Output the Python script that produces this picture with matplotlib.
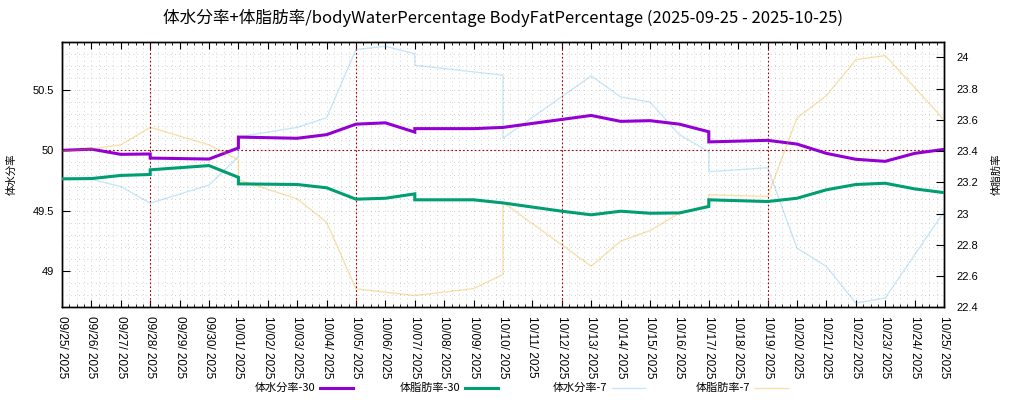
import matplotlib
matplotlib.use("Agg")
import matplotlib.pyplot as plt
import matplotlib.dates as mdates
from matplotlib.lines import Line2D
import pandas as pd

plt.rcParams['font.family'] = ['Noto Sans CJK JP', 'DejaVu Sans']

# ---------------- data ----------------
water30_dates = ["2025-09-25", "2025-09-26", "2025-09-27", "2025-09-28", "2025-09-28",
                 "2025-09-30", "2025-10-01", "2025-10-01", "2025-10-03", "2025-10-04",
                 "2025-10-05", "2025-10-06", "2025-10-07", "2025-10-07", "2025-10-09",
                 "2025-10-10", "2025-10-12", "2025-10-13", "2025-10-14", "2025-10-15",
                 "2025-10-16", "2025-10-17", "2025-10-17", "2025-10-19", "2025-10-20",
                 "2025-10-21", "2025-10-22", "2025-10-23", "2025-10-24", "2025-10-25"]
water30_vals = [50.00, 50.01, 49.967, 49.97, 49.936,
                49.928, 50.02, 50.11, 50.10, 50.13,
                50.217, 50.228, 50.151, 50.18, 50.18,
                50.19, 50.256, 50.289, 50.24, 50.246,
                50.217, 50.154, 50.07, 50.083, 50.052,
                49.975, 49.926, 49.909, 49.975, 50.008]

fat30_dates = ["2025-09-25", "2025-09-26", "2025-09-27", "2025-09-28", "2025-09-28",
               "2025-09-30", "2025-10-01", "2025-10-01", "2025-10-03", "2025-10-04",
               "2025-10-05", "2025-10-06", "2025-10-07", "2025-10-07", "2025-10-09",
               "2025-10-10", "2025-10-12", "2025-10-13", "2025-10-14", "2025-10-15",
               "2025-10-16", "2025-10-17", "2025-10-17", "2025-10-19", "2025-10-20",
               "2025-10-21", "2025-10-22", "2025-10-23", "2025-10-24", "2025-10-25"]
fat30_vals = [23.222, 23.224, 23.244, 23.25, 23.28,
              23.307, 23.232, 23.19, 23.186, 23.165,
              23.092, 23.098, 23.126, 23.088, 23.088,
              23.068, 23.015, 22.992, 23.015, 23.002,
              23.004, 23.045, 23.088, 23.077, 23.098,
              23.152, 23.186, 23.194, 23.158, 23.134]

water7_dates = ["2025-09-25", "2025-09-26", "2025-09-27", "2025-09-28", "2025-09-30",
                "2025-10-01", "2025-10-01", "2025-10-03", "2025-10-04", "2025-10-05",
                "2025-10-06", "2025-10-07", "2025-10-07", "2025-10-09", "2025-10-10",
                "2025-10-10", "2025-10-13", "2025-10-14", "2025-10-15", "2025-10-16",
                "2025-10-17", "2025-10-17", "2025-10-19", "2025-10-20", "2025-10-21",
                "2025-10-22", "2025-10-23", "2025-10-24", "2025-10-25"]
water7_vals = [49.771, 49.76, 49.70, 49.562, 49.713,
               49.947, 50.112, 50.19, 50.27, 50.835,
               50.862, 50.80, 50.705, 50.65, 50.622,
               50.10, 50.617, 50.443, 50.40, 50.13,
               49.99, 49.823, 49.856, 49.19, 49.038,
               48.735, 48.777, 49.135, 49.49]

fat7_dates = ["2025-09-25", "2025-09-26", "2025-09-27", "2025-09-28", "2025-09-30",
              "2025-10-01", "2025-10-01", "2025-10-03", "2025-10-04", "2025-10-05",
              "2025-10-07", "2025-10-09", "2025-10-10", "2025-10-10", "2025-10-13",
              "2025-10-14", "2025-10-15", "2025-10-16", "2025-10-17", "2025-10-17",
              "2025-10-19", "2025-10-20", "2025-10-21", "2025-10-22", "2025-10-23",
              "2025-10-24", "2025-10-25"]
fat7_vals = [23.40, 23.414, 23.44, 23.552, 23.44,
             23.344, 23.216, 23.094, 22.944, 22.518,
             22.475, 22.52, 22.61, 23.072, 22.663,
             22.823, 22.891, 23.002, 23.056, 23.12,
             23.109, 23.612, 23.755, 23.985, 24.011,
             23.808, 23.60]

series_labels = ["体水分率-30", "体脂肪率-30", "体水分率-7", "体脂肪率-7"]
left_ticks = [49, 49.5, 50, 50.5]
left_ticklabels = ["49", "49.5", "50", "50.5"]
right_ticks = [22.4, 22.6, 22.8, 23, 23.2, 23.4, 23.6, 23.8, 24]
right_ticklabels = ["22.4", "22.6", "22.8", "23", "23.2", "23.4", "23.6", "23.8", "24"]
week_marks = ["2025-09-28", "2025-10-05", "2025-10-12", "2025-10-19"]
ref_level = 50.0
x_start, x_end = "2025-09-25", "2025-10-25"
title = "体水分率+体脂肪率/bodyWaterPercentage BodyFatPercentage (2025-09-25 - 2025-10-25)"

# ---------------- figure ----------------
fig = plt.figure(figsize=(10.24, 4.0), dpi=100)
ax = fig.add_axes([62/1024, 1-307.3/400, (944-62)/1024, (307.3-41.7)/400])
ax2 = ax.twinx()

c_purple = "#9400d3"
c_green = "#009e73"
c_blue = "#56b4e9"
c_orange = "#e69f00"

d = pd.to_datetime
ax.plot(d(water7_dates), water7_vals, color=c_blue, lw=1.0, alpha=0.32, zorder=3)
ax.plot(d(water30_dates), water30_vals, color=c_purple, lw=2.2, zorder=4,
        solid_joinstyle='miter')
ax2.plot(d(fat7_dates), fat7_vals, color=c_orange, lw=1.0, alpha=0.32, zorder=3)
ax2.plot(d(fat30_dates), fat30_vals, color=c_green, lw=2.2, zorder=4,
         solid_joinstyle='miter')

ax.set_xlim(d(x_start), d(x_end))
ax.set_ylim(48.7, 50.9)
ax2.set_ylim(22.4, 24.1)

# reference lines
for wm in week_marks:
    ax.axvline(d(wm), color="#a00000", lw=0.8, ls=(0, (1.5, 2)), zorder=2)
ax.axhline(ref_level, color="#a00000", lw=0.8, ls=(0, (1.5, 2)), zorder=2)

# ticks
ax.xaxis.set_major_locator(mdates.DayLocator())
ax.xaxis.set_minor_locator(mdates.HourLocator(byhour=[6, 12, 18]))
ax.xaxis.set_major_formatter(mdates.DateFormatter("%m/%d/ %Y"))
ax.set_yticks(left_ticks)
ax.set_yticklabels(left_ticklabels)
ax.yaxis.set_minor_locator(matplotlib.ticker.MultipleLocator(0.1))
ax2.set_yticks(right_ticks)
ax2.set_yticklabels(right_ticklabels)

ax.tick_params(axis='x', which='major', direction='in', length=5, width=0.8,
               top=True, bottom=True, labelsize=8.5, pad=6, labelrotation=270)
ax.tick_params(axis='x', which='minor', direction='in', length=2.5, width=0.6,
               top=True, bottom=True)
ax.tick_params(axis='y', which='major', direction='in', length=6, width=0.8,
               labelsize=8, pad=6)
ax.tick_params(axis='y', which='minor', length=0)
ax2.tick_params(axis='y', which='major', direction='in', length=6, width=0.8,
                labelsize=8, pad=9)
for lab in ax.get_xticklabels() + ax.get_yticklabels() + ax2.get_yticklabels():
    lab.set_fontfamily('Liberation Sans')
for lab in ax.get_xticklabels():
    lab.set_va('top')
    lab.set_ha('center')

# grid
ax.grid(True, which='both', axis='both', color="#c4c4c4", lw=0.6, ls=(0, (1, 4)), zorder=1)
ax.set_axisbelow(True)

for sp in list(ax.spines.values()) + list(ax2.spines.values()):
    sp.set_linewidth(1.0)
    sp.set_color("black")

ax.set_ylabel("体水分率", fontsize=7.5)
ax2.set_ylabel("体脂肪率", fontsize=7.5, rotation=90)
ax.yaxis.set_label_coords((17-62)/882, 0.5)
ax2.yaxis.set_label_coords((992-62)/882, 0.5)
fig.text(503/1024, 1-18/400, title, ha='center', va='center', fontsize=12)

# legend (gnuplot style: text right, sample after)
leg_y = 1 - 388/400
text_right = [315, 460, 607, 750]
colors = [c_purple, c_green, c_blue, c_orange]
widths = [2.2, 2.2, 1.0, 1.0]
alphas = [1, 1, 0.32, 0.32]
for lab, xr, col, w, a in zip(series_labels, text_right, colors, widths, alphas):
    fig.text(xr/1024, leg_y, lab, ha='right', va='center', fontsize=8)
    fig.add_artist(Line2D([(xr+5)/1024, (xr+38)/1024], [leg_y, leg_y],
                          color=col, lw=w, alpha=a, transform=fig.transFigure))

fig.savefig("out.png", dpi=100)
